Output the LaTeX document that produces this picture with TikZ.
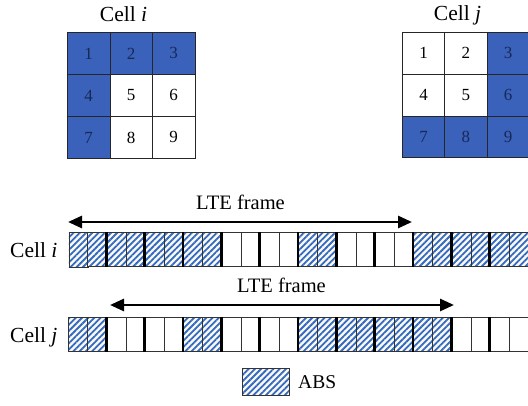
\documentclass[tikz,border=0pt]{standalone}
\usepackage{fontspec}
\setmainfont{Liberation Serif}
\usetikzlibrary{arrows.meta,patterns.meta}
\definecolor{absblue}{RGB}{58,98,186}
\definecolor{hatchblue}{RGB}{50,105,198}
\definecolor{cream}{RGB}{250,249,236}
\definecolor{numdark}{RGB}{25,40,85}
\begin{document}
\begin{tikzpicture}[x=1pt,y=-1pt,
  gridcell/.style={draw=black!85, line width=0.9pt, minimum width=42.5pt, minimum height=42pt,
    inner sep=0pt, anchor=north west, font=\fontsize{17}{17}\selectfont},
  bluecell/.style={gridcell, fill=absblue, text=numdark},
  slot/.style={draw=black!80, line width=0.8pt, minimum width=19.17pt, minimum height=34.5pt,
    inner sep=0pt, anchor=north west},
  absslot/.style={slot, preaction={fill=cream},
    pattern={Lines[angle=45,distance=4.4pt,line width=1.8pt]}, pattern color=hatchblue},
  thickline/.style={line width=2.8pt, line cap=butt},
  framearrow/.style={line width=2.8pt, {Triangle[length=14pt,width=12pt]}-{Triangle[length=14pt,width=12pt]}},
  lbl/.style={font=\fontsize{21.5}{24}\selectfont, inner sep=0pt},
  framelbl/.style={font=\fontsize{20.5}{24}\selectfont, inner sep=0pt, anchor=base}
]
\clip (0,0) rectangle (528,406);
\fill[white] (0,0) rectangle (528,406);

% Titles
\node[lbl, anchor=base] (ti) at (123.5,22) {Cell \textit{i}};
\node[lbl, anchor=base] (tj) at (457.5,21) {Cell \textit{j}};

% Grid of cell i
\foreach \n/\c/\r/\s in {1/0/0/bluecell,2/1/0/bluecell,3/2/0/bluecell,
                         4/0/1/bluecell,5/1/1/gridcell,6/2/1/gridcell,
                         7/0/2/bluecell,8/1/2/gridcell,9/2/2/gridcell}
  \node[\s] (gi\n) at ({67+42.5*\c},{32+42*\r}) {\n};

% Grid of cell j
\foreach \n/\c/\r/\s in {1/0/0/gridcell,2/1/0/gridcell,3/2/0/bluecell,
                         4/0/1/gridcell,5/1/1/gridcell,6/2/1/bluecell,
                         7/0/2/bluecell,8/1/2/bluecell,9/2/2/bluecell}
  \node[\s, minimum width=42.3pt, minimum height=41.8pt] (gj\n) at ({402+42.3*\c},{32+41.8*\r}) {\n};

% Frame of cell i
\foreach \k/\s in {0/absslot,1/absslot,2/absslot,3/absslot,4/absslot,5/absslot,6/absslot,7/absslot,
                   8/slot,9/slot,10/slot,11/slot,12/absslot,13/absslot,14/slot,15/slot,16/slot,17/slot,
                   18/absslot,19/absslot,20/absslot,21/absslot,22/absslot,23/absslot}
  \node[\s] (si\k) at ({68+19.17*\k},232) {};
\foreach \k in {2,4,...,22}
  \draw[thickline] (si\k.north west) -- (si\k.south west);

% Frame of cell j
\foreach \k/\s in {0/absslot,1/absslot,2/slot,3/slot,4/slot,5/slot,6/absslot,7/absslot,
                   8/slot,9/slot,10/slot,11/slot,12/absslot,13/absslot,14/absslot,15/absslot,
                   16/absslot,17/absslot,18/absslot,19/absslot,20/slot,21/slot,22/slot,23/slot}
  \node[\s] (sj\k) at ({68+19.17*\k},317) {};
\foreach \k in {2,4,...,22}
  \draw[thickline] (sj\k.north west) -- (sj\k.south west);

% Row labels
\node[lbl, anchor=base west] (li) at (10,258) {Cell \textit{i}};
\node[lbl, anchor=base west] (lj) at (10,343) {Cell \textit{j}};

% LTE frame arrows
\coordinate (ai1) at (68,222);
\coordinate (ai2) at (412,222);
\draw[framearrow] (ai1) -- (ai2);
\node[framelbl] (fi) at (240.5,210) {LTE frame};

\coordinate (aj1) at (110,305);
\coordinate (aj2) at (454,305);
\draw[framearrow] (aj1) -- (aj2);
\node[framelbl] (fj) at (281.5,293) {LTE frame};

% Legend
\node[absslot, minimum width=47pt, minimum height=27pt] (leg) at (242,368) {};
\node[font=\fontsize{19.5}{22}\selectfont, inner sep=0pt, anchor=base west] (legt) at (298,388.5) {ABS};
\end{tikzpicture}
\end{document}
